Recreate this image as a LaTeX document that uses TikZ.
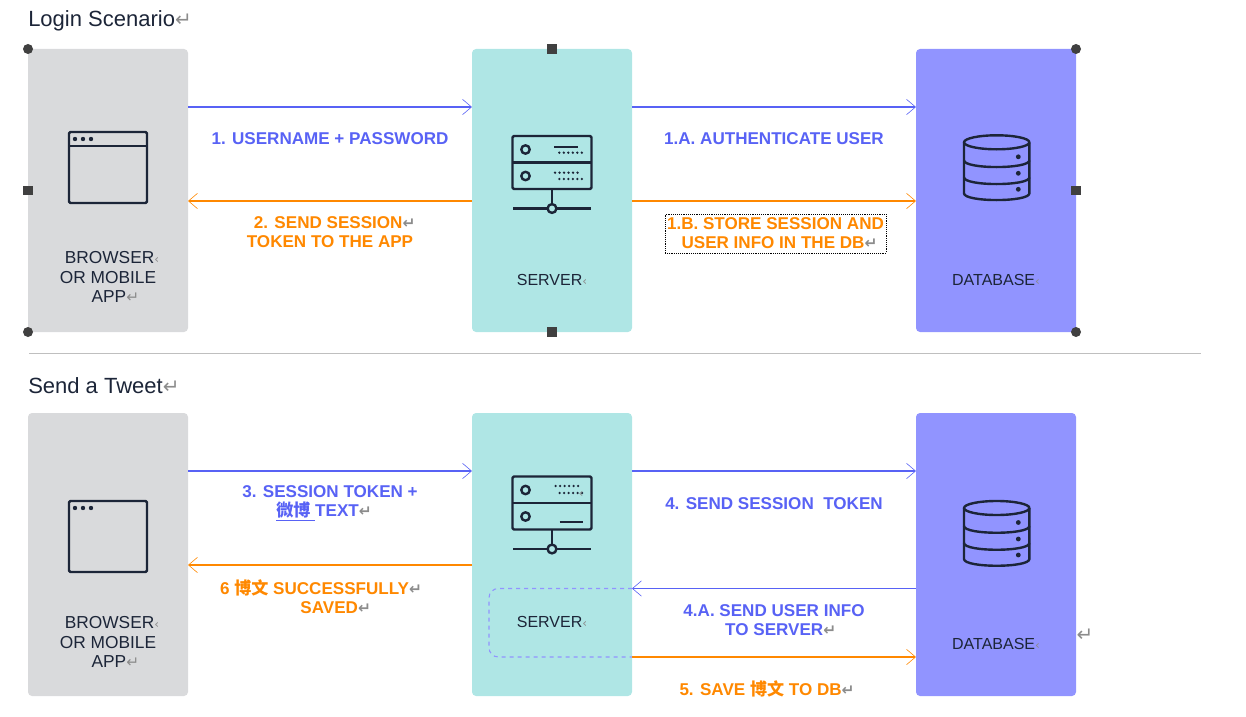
\documentclass[tikz,border=0pt]{standalone}
\usepackage{fontspec}
\setmainfont{Liberation Sans}
\newfontfamily\cjk{Noto Sans CJK TC}
\newfontfamily\markfont{DejaVu Sans}
\usepackage{xcolor}
\usetikzlibrary{arrows.meta,positioning}
\definecolor{browsergray}{RGB}{217,218,220}
\definecolor{serverteal}{RGB}{175,230,229}
\definecolor{dbviolet}{RGB}{145,148,255}
\definecolor{msgblue}{RGB}{88,98,245}
\definecolor{msgorange}{RGB}{255,136,0}
\definecolor{iconink}{RGB}{28,37,56}
\definecolor{handlegray}{RGB}{64,64,64}
\definecolor{marksgray}{RGB}{140,140,140}
\newcommand{\pmark}{{\markfont\fontsize{11.5}{10}\selectfont\textcolor{marksgray}{↵}}}
\newcommand{\pmarkbig}{{\markfont\fontsize{15}{10}\selectfont\textcolor{marksgray}{↵}}}
\newcommand{\pcut}{{\markfont\fontsize{9}{7}\selectfont\textcolor{marksgray}{‹}}}
\tikzset{
  tierbox/.style={rounded corners=3pt, inner sep=0pt, outer sep=0pt, minimum width=120pt, minimum height=212.25pt},
  tiername/.style={text=iconink, font=\fontsize{12}{14.6}\selectfont, align=center, inner sep=0pt},
  browsername/.style={text=iconink, font=\fontsize{13}{14.6}\selectfont, align=center, inner sep=0pt},
  heading/.style={text=iconink, font=\fontsize{16.5}{19}\selectfont, anchor=west, inner sep=0pt},
  msgline/.style={line width=0.85pt, -{Straight Barb[length=6.75pt,width=11.5pt,line width=0.45pt]}},
  msgtext/.style={font=\fontsize{12.8}{14.3}\selectfont\bfseries, align=center, inner sep=0pt},
  handleround/.style={circle, fill=handlegray, inner sep=0pt, minimum size=7.5pt},
  handlesquare/.style={rectangle, fill=handlegray, inner sep=0pt, minimum size=7pt},
  iconline/.style={draw=iconink, line width=1.8pt, line join=round},
  windowicon/.pic={
    \draw[iconline, rounded corners=1pt] (-39,-35.5) rectangle (39,35.5);
    \foreach \n in {0,1,2} \fill[iconink] (-33+8*\n,-28.5) circle[radius=2.2];
  },
  dotrow/.pic={
    \foreach \n in {0,...,5} \fill[iconink] (4.5*\n,0) circle[radius=1.3];
  },
  servericon/.pic={
    \draw[iconline, rounded corners=1pt] (-39.5,-26.5) rectangle (39.5,26.5);
    \draw[iconline] (-39.5,0) -- (39.5,0);
    \draw[iconline] (0,26.5) -- (0,46);
    \draw[iconline] (-39,46) -- (39,46);
    \draw[iconline, fill=serverteal] (0,46) circle[radius=4.4];
    \draw[iconline] (-26.5,-13) circle[radius=4.2];
    \draw[iconline] (-26.5,13.5) circle[radius=4.2];
  },
  dbicon/.pic={
    \draw[iconline] (0,-25) circle[x radius=32.7, y radius=7];
    \draw[iconline] (-32.7,-25) -- (-32.7,26) .. controls (-32.7,35) and (32.7,35) .. (32.7,26) -- (32.7,-25);
    \draw[iconline] (-32.7,-7) .. controls (-32.7,2) and (32.7,2) .. (32.7,-7);
    \draw[iconline] (-32.7,10) .. controls (-32.7,19) and (32.7,19) .. (32.7,10);
    \foreach \doty in {-10.5,6,22} \fill[iconink] (21.6,\doty) circle[radius=2.4];
  }
}
\begin{document}
\begin{tikzpicture}[x=0.75pt, y=-0.75pt, node distance=213pt]
  \useasboundingbox (0,0) rectangle (1246,717);

  \node[heading] (titleA) at (28,21) {Login Scenario\pmarkbig};
  \node[tierbox, fill=browsergray] (browserA) at (108,190.5) {};
  \node[tierbox, fill=serverteal, right=of browserA] (serverA) {};
  \node[tierbox, fill=dbviolet, right=of serverA] (dbA) {};

  \pic at (108,167.5) {windowicon};
  \draw[iconline] (69,146) -- (147,146);
  \pic at (552,162.5) {servericon};
  \draw[iconline] (554,146.7) -- (578,146.7);
  \pic at (559.3,152.7) {dotrow};
  \pic at (555,172.7) {dotrow};
  \pic at (559.3,179) {dotrow};
  \pic at (996.7,167.3) {dbicon};

  \node[browsername] (browserAname) at (108,277) {\hspace{6pt}BROWSER\pcut\\OR MOBILE\\\hspace{11pt}APP\pmark};
  \node[tiername] (serverAname) at (552,280) {SERVER\pcut};
  \node[tiername] (dbAname) at (996,280) {DATABASE\pcut};

  \draw[msgline, msgblue] (browserA.east |- 0,107) -- (serverA.west |- 0,107);
  \draw[msgline, msgorange] (serverA.west |- 0,201) -- (browserA.east |- 0,201);
  \draw[msgline, msgblue] (serverA.east |- 0,107) -- (dbA.west |- 0,107);
  \draw[msgline, msgorange] (serverA.east |- 0,201) -- (dbA.west |- 0,201);

  \node[msgtext, text=msgblue] (msgone) at (330,139) {1. USERNAME + PASSWORD};
  \node[msgtext, text=msgorange] (msgtwo) at (330,232.5) {\hspace{7pt}2. SEND SESSION\pmark\\TOKEN TO THE APP};
  \node[msgtext, text=msgblue] (msgonea) at (774,139) {1.A. AUTHENTICATE USER};
  \node[msgtext, text=msgorange, draw=black, densely dotted, inner xsep=0.5pt, inner ysep=2pt, minimum width=165.75pt, minimum height=29.25pt] (msgoneb) at (775.5,233.5) {1.B. STORE SESSION AND\\\hspace{6pt}USER INFO IN THE DB\pmark};

  \node[handleround] (hnw) at (browserA.north west) {};
  \node[handleround] (hsw) at (browserA.south west) {};
  \node[handleround] (hne) at (dbA.north east) {};
  \node[handleround] (hse) at (dbA.south east) {};
  \node[handlesquare] (hw) at (browserA.west) {};
  \node[handlesquare] (hn) at (serverA.north) {};
  \node[handlesquare] (hs) at (serverA.south) {};
  \node[handlesquare] (he) at (dbA.east) {};

  \coordinate (ruleleft) at (29,353);
  \coordinate (ruleright) at (1201,353);
  \draw[line width=0.6pt, black!25] (ruleleft) -- (ruleright);

  \node[heading] (titleB) at (28,386) {Send a Tweet\pmarkbig};
  \node[tierbox, fill=browsergray] (browserB) at (108,554.5) {};
  \node[tierbox, fill=serverteal, right=of browserB] (serverB) {};
  \node[tierbox, fill=dbviolet, right=of serverB] (dbB) {};

  \pic at (108,536.5) {windowicon};
  \pic at (552,503) {servericon};
  \pic at (555.6,486) {dotrow};
  \pic at (559.6,493) {dotrow};
  \draw[iconline] (559.6,521.7) -- (583,521.7);
  \node[inner sep=0pt] (servermark) at (581,494) {\pcut};
  \pic at (996.7,533) {dbicon};

  \node[browsername] (browserBname) at (108,642) {\hspace{6pt}BROWSER\pcut\\OR MOBILE\\\hspace{11pt}APP\pmark};
  \node[tiername] (serverBname) at (552,622) {SERVER\pcut};
  \node[tiername] (dbBname) at (996,644) {DATABASE\pcut};
  \node[inner sep=0pt] (dbBmark) at (1085,635) {\pmarkbig};

  \draw[msgline, msgblue] (browserB.east |- 0,471) -- (serverB.west |- 0,471);
  \draw[msgline, msgorange] (serverB.west |- 0,565) -- (browserB.east |- 0,565);
  \draw[msgline, msgblue] (serverB.east |- 0,471) -- (dbB.west |- 0,471);
  \draw[msgline, msgblue] (dbB.west |- 0,588.5) -- (serverB.east |- 0,588.5);
  \draw[msgline, msgorange] (serverB.east |- 0,657) -- (dbB.west |- 0,657);
  \draw[line width=0.8pt, dbviolet, dashed, rounded corners=7pt] (serverB.east |- 0,588.5) -| (489,622) |- (serverB.east |- 0,657);

  \node[msgtext, text=msgblue] (msgthree) at (330,503.5) {3. SESSION TOKEN +\\\underline{{\cjk 微博}\ }TEXT\pmark\hspace*{9pt}};
  \node[msgtext, text=msgorange] (msgsix) at (321,596.5) {6 {\cjk 博文} SUCCESSFULLY\pmark\\\hspace{22pt}SAVED\pmark};
  \node[msgtext, text=msgblue] (msgfour) at (774,504) {4. SEND SESSION\ \ TOKEN};
  \node[msgtext, text=msgblue] (msgfoura) at (774,620.5) {4.A. SEND USER INFO\\\hspace{10pt}TO SERVER\pmark};
  \node[msgtext, text=msgorange] (msgfive) at (767,689) {5. SAVE {\cjk 博文} TO DB\pmark};
\end{tikzpicture}
\end{document}
